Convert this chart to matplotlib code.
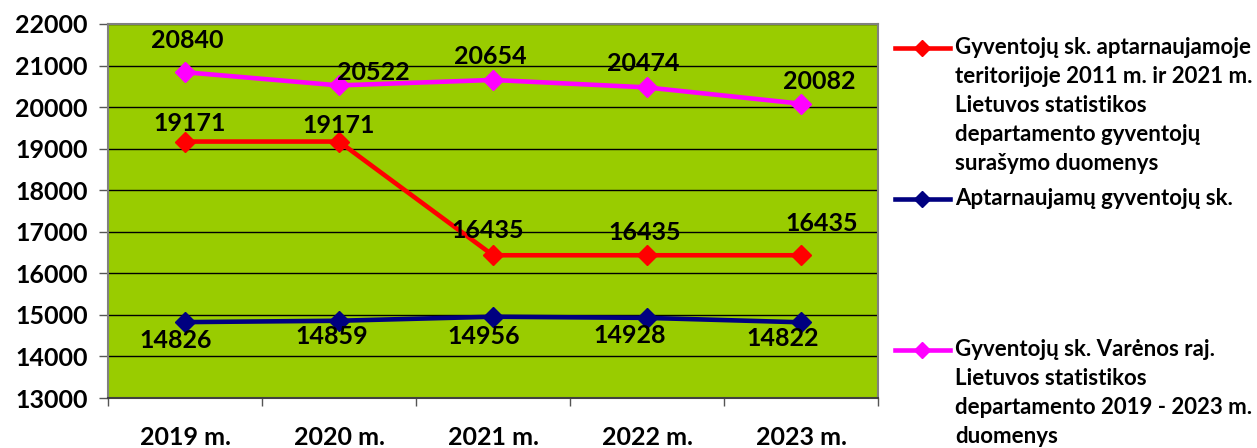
import matplotlib
matplotlib.use("Agg")
import matplotlib.pyplot as plt
from matplotlib.lines import Line2D

plt.rcParams["font.family"] = "Lato"
plt.rcParams["font.weight"] = "bold"

years = ["2019 m.", "2020 m.", "2021 m.", "2022 m.", "2023 m."]
census = [19171, 19171, 16435, 16435, 16435]
served = [14826, 14859, 14956, 14928, 14822]
district = [20840, 20522, 20654, 20474, 20082]

census_name = ("Gyventojų sk. aptarnaujamoje\nteritorijoje 2011 m. ir 2021 m.\n"
               "Lietuvos statistikos\ndepartamento gyventojų\nsurašymo duomenys")
served_name = "Aptarnaujamų gyventojų sk."
district_name = ("Gyventojų sk. Varėnos raj.\nLietuvos statistikos\n"
                 "departamento 2019 - 2023 m.\nduomenys")

# label nudges in pixels (dx, dy) per point
census_off = [(5, 18), (0, 16), (-5, 25), (-2, 23), (21, 32)]
served_off = [(-9, -18), (-7, -16), (-9, -20), (-17, -18), (-18, -16)]
district_off = [(2, 32), (34, 13), (-3, 23), (-4, 24), (18, 22)]

W, H = 1257, 448
fig = plt.figure(figsize=(W / 100, H / 100), dpi=100)
ax = fig.add_axes([108 / W, 1 - 398 / H, 770 / W, 374 / H])
ax.set_facecolor("#99CC00")

x = list(range(len(years)))
series = [
    (census, "#FF0000", census_off),
    (served, "#000080", served_off),
    (district, "#FF00FF", district_off),
]
for vals, col, offs in series:
    ax.plot(x, vals, color=col, lw=3.3, marker="D", ms=10, zorder=3)
    for xi, v, (dx, dy) in zip(x, vals, offs):
        ax.annotate(str(v), (xi, v), xytext=(dx * 0.72, dy * 0.72),
                    textcoords="offset points", ha="center", va="center",
                    fontsize=18, fontweight="bold", zorder=4)

ax.set_xlim(-0.5, len(years) - 0.5)
ax.set_ylim(13000, 22000)
ax.set_yticks(range(13000, 22001, 1000))
ax.yaxis.grid(True, color="black", lw=1)
ax.set_axisbelow(True)
ax.tick_params(axis="y", labelsize=18, length=6.5, width=1, pad=8, color="#555555")

ax.set_xticks(x)
ax.set_xticklabels(years)
ax.set_xticks([i - 0.5 for i in range(len(years) + 1)], minor=True)
ax.tick_params(axis="x", which="major", length=0, labelsize=18, pad=20)
ax.tick_params(axis="x", which="minor", length=6, width=1, color="#555555")
for lab in ax.get_xticklabels() + ax.get_yticklabels():
    lab.set_fontweight("bold")

for s in ax.spines.values():
    s.set_color("#808080")
    s.set_linewidth(1.5)
ax.spines["bottom"].set_color("#404040")

# legend drawn by hand to keep Excel-like spacing
legend = [(census_name, "#FF0000", 48), (served_name, "#000080", 199),
          (district_name, "#FF00FF", 350)]
for text, col, ypx in legend:
    yf = 1 - ypx / H
    fig.add_artist(Line2D([895 / W, 950 / W], [yf, yf], color=col, lw=3.3,
                          transform=fig.transFigure))
    fig.add_artist(Line2D([922 / W], [yf], color=col, marker="D", ms=8,
                          transform=fig.transFigure))
    fig.text(955 / W, yf + 11 / H, text, ha="left", va="top", fontsize=16,
             fontweight="bold", linespacing=1.47)

fig.savefig("out.png", dpi=100)
